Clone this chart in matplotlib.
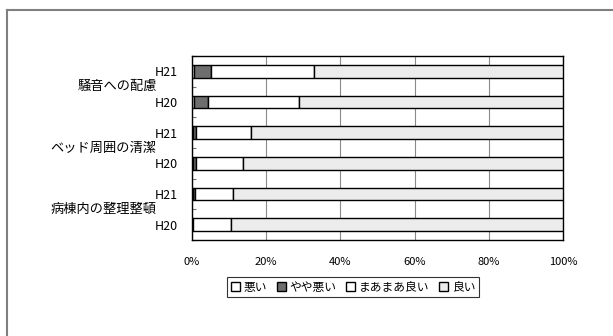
import matplotlib
matplotlib.use("Agg")
import matplotlib.pyplot as plt
from matplotlib.lines import Line2D
import numpy as np

plt.rcParams['font.family'] = ['Noto Sans CJK JP', 'DejaVu Sans']

groups = ["騒音への配慮", "ベッド周囲の清潔", "病棟内の整理整頓"]
years = ["H21", "H20"]
series_names = ["悪い", "やや悪い", "まあまあ良い", "良い"]
# order: 騒音H21, 騒音H20, ベッドH21, ベッドH20, 病棟H21, 病棟H20
warui = [0.6, 0.5, 0.3, 0.3, 0.2, 0.1]
yaya_warui = [4.5, 3.7, 0.9, 0.7, 0.5, 0.3]
maamaa = [27.9, 24.7, 14.6, 12.7, 10.3, 10.1]
yoi = [67.0, 71.1, 84.2, 86.3, 89.0, 89.5]
xtick_labels = ["0%", "20%", "40%", "60%", "80%", "100%"]

colors = ["#ffffff", "#6e6e6e", "#ffffff", "#ececec"]

fig = plt.figure(figsize=(6.13, 3.36), dpi=100)
ax = fig.add_axes([192/613, 1-240/336, 371/613, 184/336])

n = len(warui)
ypos = np.arange(n)[::-1]
data = [warui, yaya_warui, maamaa, yoi]
left = np.zeros(n)
for vals, c, name in zip(data, colors, series_names):
    v = np.array(vals, dtype=float)
    ax.barh(ypos, v, left=left, height=0.42, color=c, edgecolor="black",
            linewidth=1.0, label=name, zorder=3)
    left += v

ax.set_xlim(0, 100)
ax.set_ylim(-0.5, n - 0.5)
ax.set_xticks(np.arange(0, 101, 20))
ax.set_xticklabels(xtick_labels, fontsize=8)
ax.tick_params(axis='x', length=0, pad=12)
ax.xaxis.grid(True, color="#8a8a8a", linewidth=0.8, zorder=0)
ax.set_axisbelow(True)

ylabels = [years[i % 2] for i in range(n)]
ax.set_yticks(ypos)
ax.set_yticklabels(ylabels, fontsize=9)
ax.tick_params(axis='y', which='major', length=0, pad=10)
ax.set_yticks(np.arange(-0.5, n, 1.0), minor=True)
ax.tick_params(axis='y', which='minor', direction='in', length=3, color="#777777", width=0.8)

for s in ax.spines.values():
    s.set_color("black")
    s.set_linewidth(1.0)

for gi, g in enumerate(groups):
    yc = n - 1 - (2 * gi + 0.5)
    ax.text(-0.095, yc, g, transform=ax.get_yaxis_transform(), ha='right',
            va='center', fontsize=9.5)

handles = [plt.Rectangle((0, 0), 1, 1, facecolor=c, edgecolor="black", linewidth=1.0)
           for c in colors]
leg = fig.legend(handles, series_names, loc='center', bbox_to_anchor=(353/613, 1-287/336),
                 ncol=4, fontsize=8.5, frameon=True, fancybox=False, handlelength=0.8,
                 handleheight=0.8, handletextpad=0.3, columnspacing=0.8,
                 borderpad=0.3, borderaxespad=0)
leg.get_frame().set_edgecolor("black")
leg.get_frame().set_linewidth(0.8)

# outer chart border (left and top visible)
fig.add_artist(Line2D([7/613, 7/613], [0, 1-10/336], transform=fig.transFigure,
                      color="#808080", linewidth=1.5))
fig.add_artist(Line2D([7/613, 1], [1-10/336, 1-10/336], transform=fig.transFigure,
                      color="#808080", linewidth=1.5))

fig.savefig("out.png", dpi=100)
